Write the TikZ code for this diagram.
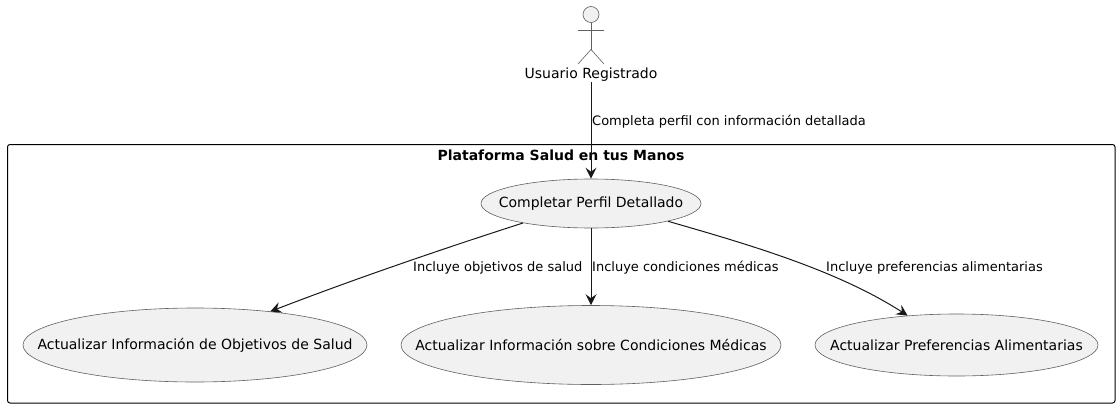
\documentclass[tikz,border=0pt]{standalone}
\usepackage{fontspec}
\setmainfont{DejaVu Sans}
\usetikzlibrary{arrows.meta,shapes.geometric}
\definecolor{usefill}{HTML}{F1F1F1}
\definecolor{useline}{HTML}{181818}
\definecolor{thinline}{HTML}{606060}
\tikzstyle{usecase}=[fill=usefill, draw=thinline, line width=0.6pt, shape=ellipse, inner sep=0pt]
\tikzstyle{lbl}=[inner sep=0pt, text=black, font=\fontsize{14}{16}\selectfont]
\tikzstyle{edgelbl}=[inner sep=0pt, anchor=west, text=black, font=\fontsize{13}{16}\selectfont]
\tikzstyle{actorline}=[draw=thinline, line width=0.6pt]
\tikzstyle{ed}=[-{Stealth[length=11pt,width=11pt,inset=4pt]}, draw=useline, line width=1pt]

\begin{document}
\begin{tikzpicture}[x=1pt, y=-1pt]
	\useasboundingbox (0, 0) rectangle (1120, 407);
	\node [draw=black, line width=1pt, rounded corners=2.5pt, minimum width=1107.5pt, minimum height=258.5pt, inner sep=0pt] (frame) at (561.25, 273.75) {};
	\node [style=lbl, font=\fontsize{14}{16}\selectfont\bfseries] (title) at (561, 155) {Plataforma Salud en tus Manos};

	\node [style=usecase, shape=circle, minimum size=16pt] (head) at (591, 14.5) {};
	\coordinate (hip) at (591, 49.5);
	\coordinate (armL) at (578, 30);
	\coordinate (armR) at (604, 30);
	\coordinate (footL) at (578, 64);
	\coordinate (footR) at (604, 64);
	\draw [style=actorline] (head) to (hip);
	\draw [style=actorline] (armL) to (armR);
	\draw [style=actorline] (footL) to (hip) to (footR);
	\node [style=lbl, minimum height=15pt] (usuario) at (591, 74.5) {Usuario Registrado};

	\node [style=usecase, minimum width=220pt, minimum height=49pt] (completar) at (591, 203.5) {};
	\node [style=usecase, minimum width=344pt, minimum height=74pt] (objetivos) at (195, 345) {};
	\node [style=usecase, minimum width=380pt, minimum height=79pt] (condiciones) at (591, 345) {};
	\node [style=usecase, minimum width=283pt, minimum height=62pt] (preferencias) at (956.5, 345) {};
	\node [style=lbl] at (completar) {Completar Perfil Detallado};
	\node [style=lbl] at (objetivos) {Actualizar Información de Objetivos de Salud};
	\node [style=lbl] at (condiciones) {Actualizar Información sobre Condiciones Médicas};
	\node [style=lbl] at (preferencias) {Actualizar Preferencias Alimentarias};

	\draw [style=ed] (usuario) to (completar);
	\draw [style=ed] (completar.196.5) .. controls (470, 240) and (370, 273) .. (objetivos.24);
	\draw [style=ed] (completar) to (condiciones);
	\draw [style=ed] (completar.-13) .. controls (747, 244) and (837, 270) .. (preferencias.149.4);

	\node [style=edgelbl] (lblperfil) at (592, 122) {Completa perfil con información detallada};
	\node [style=edgelbl] (lblobjetivos) at (413, 268) {Incluye objetivos de salud};
	\node [style=edgelbl] (lblcondiciones) at (592, 268) {Incluye condiciones médicas};
	\node [style=edgelbl] (lblpreferencias) at (826, 268) {Incluye preferencias alimentarias};
\end{tikzpicture}
\end{document}
